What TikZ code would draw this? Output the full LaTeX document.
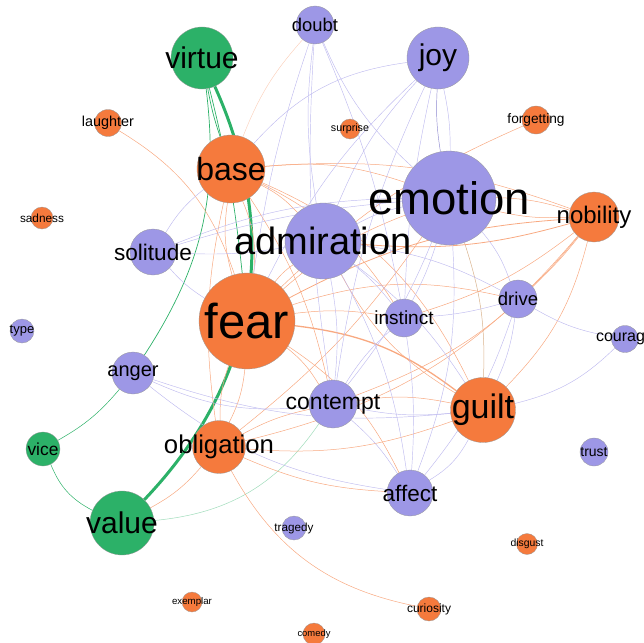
\documentclass[tikz,border=0pt]{standalone}
\usepackage{fontspec}
\setmainfont{Liberation Sans}
\usepackage{xcolor}
\definecolor{nodeorange}{RGB}{245,122,61}
\definecolor{nodepurple}{RGB}{157,151,230}
\definecolor{nodegreen}{RGB}{44,177,104}
\usetikzlibrary{positioning}
\pgfdeclarelayer{edges}
\pgfsetlayers{edges,main}

\tikzset{
  concept/.style={circle, draw=black!40, line width=0.3pt, inner sep=0pt},
  orng/.style={concept, fill=nodeorange},
  lila/.style={concept, fill=nodepurple},
  grn/.style={concept, fill=nodegreen},
  lbl/.style={inner sep=0pt, text=black},
  oedge/.style={draw=nodeorange!65, line width=0.5pt},
  pedge/.style={draw=nodepurple!65, line width=0.45pt},
  gedge/.style={draw=nodegreen, line width=0.7pt},
}

\begin{document}
\begin{tikzpicture}[x=1pt, y=-1pt]
\useasboundingbox (0,0) rectangle (644,642);

% concepts
  \node[grn, minimum size=62pt] (virtue) at (202,58) {};
  \node[lbl, font=\fontsize{30}{30}\selectfont] (virtue-t) at (virtue) {virtue};
  \node[lila, minimum size=38pt] (doubt) at (315,25) {};
  \node[lbl, font=\fontsize{18.4}{18}\selectfont] (doubt-t) at (doubt) {doubt};
  \node[lila, minimum size=62pt] (joy) at (438,58) {};
  \node[lbl, font=\fontsize{30}{30}\selectfont] (joy-t) at (joy) {joy};
  \node[orng, minimum size=27pt] (laughter) at (108,123) {};
  \node[lbl, font=\fontsize{14.4}{14}\selectfont] (laughter-t) at (laughter) {laughter};
  \node[orng, minimum size=20pt] (surprise) at (350,129) {};
  \node[lbl, font=\fontsize{10.7}{11}\selectfont] (surprise-t) at (surprise) {surprise};
  \node[orng, minimum size=28pt] (forgetting) at (536,120) {};
  \node[lbl, font=\fontsize{13.7}{14}\selectfont] (forgetting-t) at (forgetting) {forgetting};
  \node[orng, minimum size=68pt] (base) at (231,169) {};
  \node[lbl, font=\fontsize{32}{32}\selectfont] (base-t) at (base) {base};
  \node[lila, minimum size=94pt] (emotion) at (449,198) {};
  \node[lbl, font=\fontsize{45.5}{46}\selectfont] (emotion-t) at (emotion) {emotion};
  \node[orng, minimum size=50pt] (nobility) at (594,217) {};
  \node[lbl, font=\fontsize{24}{24}\selectfont] (nobility-t) at (nobility) {nobility};
  \node[lila, minimum size=76pt] (admiration) at (323,241) {};
  \node[lbl, font=\fontsize{38}{38}\selectfont] (admiration-t) at (admiration) {admiration};
  \node[orng, minimum size=22pt] (sadness) at (42,218) {};
  \node[lbl, font=\fontsize{11.8}{12}\selectfont] (sadness-t) at (sadness) {sadness};
  \node[lila, minimum size=46pt] (solitude) at (153,252) {};
  \node[lbl, font=\fontsize{22.6}{23}\selectfont] (solitude-t) at (solitude) {solitude};
  \node[orng, minimum size=96pt] (fear) at (247,321) {};
  \node[lbl, font=\fontsize{49}{49}\selectfont] (fear-t) at (fear) {fear};
  \node[lila, minimum size=38pt] (instinct) at (404,318) {};
  \node[lbl, font=\fontsize{19}{19}\selectfont] (instinct-t) at (instinct) {instinct};
  \node[lila, minimum size=38pt] (drive) at (518,299) {};
  \node[lbl, font=\fontsize{18.5}{19}\selectfont] (drive-t) at (drive) {drive};
  \node[lila, minimum size=24pt] (type) at (22,331) {};
  \node[lbl, font=\fontsize{13}{13}\selectfont] (type-t) at (type) {type};
  \node[lila, minimum size=27pt] (courage) at (625,339) {};
  \node[lbl, font=\fontsize{16}{16}\selectfont] (courage-t) at (courage) {courage};
  \node[lila, minimum size=42pt] (anger) at (133,373) {};
  \node[lbl, font=\fontsize{20}{20}\selectfont] (anger-t) at (anger) {anger};
  \node[lila, minimum size=48pt] (contempt) at (333,404) {};
  \node[lbl, font=\fontsize{23}{23}\selectfont] (contempt-t) at (contempt) {contempt};
  \node[orng, minimum size=65pt] (guilt) at (483,410) {};
  \node[lbl, font=\fontsize{34}{34}\selectfont] (guilt-t) at (guilt) {guilt};
  \node[grn, minimum size=34pt] (vice) at (43,449) {};
  \node[lbl, font=\fontsize{17.4}{17}\selectfont] (vice-t) at (vice) {vice};
  \node[orng, minimum size=53pt] (obligation) at (219,447) {};
  \node[lbl, font=\fontsize{25.7}{26}\selectfont] (obligation-t) at (obligation) {obligation};
  \node[lila, minimum size=28pt] (trust) at (594,452) {};
  \node[lbl, font=\fontsize{14}{14}\selectfont] (trust-t) at (trust) {trust};
  \node[lila, minimum size=46pt] (affect) at (410,493) {};
  \node[lbl, font=\fontsize{22.5}{23}\selectfont] (affect-t) at (affect) {affect};
  \node[grn, minimum size=64pt] (value) at (122,523) {};
  \node[lbl, font=\fontsize{30}{30}\selectfont] (value-t) at (value) {value};
  \node[lila, minimum size=24pt] (tragedy) at (294,528) {};
  \node[lbl, font=\fontsize{11.7}{12}\selectfont] (tragedy-t) at (tragedy) {tragedy};
  \node[orng, minimum size=21pt] (disgust) at (527,544) {};
  \node[lbl, font=\fontsize{10.4}{10}\selectfont] (disgust-t) at (disgust) {disgust};
  \node[orng, minimum size=24pt] (curiosity) at (429,609) {};
  \node[lbl, font=\fontsize{12}{12}\selectfont] (curiosity-t) at (curiosity) {curiosity};
  \node[orng, minimum size=20pt] (exemplar) at (192,602) {};
  \node[lbl, font=\fontsize{9.7}{10}\selectfont] (exemplar-t) at (exemplar) {exemplar};
  \node[orng, minimum size=22pt] (comedy) at (314,634) {};
  \node[lbl, font=\fontsize{9.4}{9}\selectfont] (comedy-t) at (comedy) {comedy};

\begin{pgfonlayer}{edges}
% green links
  \draw[gedge, line width=3pt] (virtue) to[bend left=34] (value);
  \draw[gedge] (virtue) to[bend right=4] (base);
  \draw[gedge] (virtue) to[bend left=4] (fear);
  \draw[gedge] (virtue) to[bend left=20] (anger);
  \draw[gedge, line width=0.5pt] (vice) to[bend right=10] (anger);
  \draw[gedge, line width=0.5pt] (vice) to[bend right=20] (value);
  \draw[draw=nodegreen!45, line width=0.5pt] (value) to[bend right=25] (contempt);

% orange links
  \draw[oedge] (laughter) to[bend left=20] (fear);
  \draw[oedge] (forgetting) to[bend right=10] (fear);
  \draw[oedge] (base) to[bend left=10] (admiration);
  \draw[oedge] (base) to[bend left=12] (emotion);
  \draw[oedge] (base) to[bend left=12] (nobility);
  \draw[oedge] (base) to[bend left=20] (guilt);
  \draw[oedge] (base) to[bend right=12] (fear);
  \draw[oedge] (base) to[bend left=14] (fear);
  \draw[oedge] (base) to[bend left=15] (instinct);
  \draw[oedge] (base) to[bend left=10] (contempt);
  \draw[oedge] (base) to[bend right=10] (obligation);
  \draw[oedge, line width=1.3pt] (fear) to[bend left=15] (guilt);
  \draw[oedge, line width=0.8pt] (fear) to[bend left=12] (nobility);
  \draw[oedge] (fear) to[bend left=8] (instinct);
  \draw[oedge] (fear) to[bend left=15] (drive);
  \draw[oedge] (fear) to[bend left=10] (emotion);
  \draw[oedge] (fear) to[bend left=8] (admiration);
  \draw[oedge] (fear) to[bend left=10] (contempt);
  \draw[oedge] (fear) to[bend left=15] (affect);
  \draw[oedge] (fear) to[bend right=10] (obligation);
  \draw[oedge] (fear) to[bend left=10] (obligation);
  \draw[oedge] (obligation) to[bend right=12] (guilt);
  \draw[oedge] (obligation) to[bend right=18] (nobility);
  \draw[oedge] (obligation) to[bend right=8] (emotion);
  \draw[oedge] (obligation) to[bend right=25] (curiosity);
  \draw[oedge] (obligation) to[bend right=10] (affect);
  \draw[oedge] (obligation) to[bend left=8] (contempt);
  \draw[oedge] (obligation) to[bend left=10] (value);
  \draw[oedge] (guilt) to[bend left=15] (admiration);
  \draw[oedge] (guilt) to[bend right=10] (contempt);
  \draw[oedge] (guilt) to[bend right=15] (nobility);
  \draw[oedge, draw=brown!60] (guilt) to[bend right=10] (emotion);
  \draw[oedge, line width=0.8pt] (nobility) to[bend left=10] (admiration);
  \draw[oedge] (nobility) to[bend left=10] (instinct);
  \draw[oedge] (nobility) to[bend left=5] (drive);
  \draw[oedge] (nobility) to[bend left=15] (contempt);
  \draw[oedge] (nobility) to[bend left=8] (emotion);
  \draw[oedge] (nobility) to[bend right=8] (emotion);

% purple links
  \draw[pedge, draw=nodeorange!35] (doubt) to[bend right=10] (base);
  \draw[pedge] (doubt) to[bend right=5] (fear);
  \draw[pedge] (doubt) to[bend right=8] (admiration);
  \draw[pedge] (doubt) to[bend right=6] (contempt);
  \draw[pedge] (doubt) to[bend right=12] (emotion);
  \draw[pedge] (doubt) to[bend left=6] (instinct);
  \draw[pedge] (joy) to[bend right=20] (base);
  \draw[pedge] (joy) to[bend left=6] (emotion);
  \draw[pedge, draw=nodepurple!90!black] (joy) to[bend right=6] (emotion);
  \draw[pedge] (joy) to[bend right=10] (admiration);
  \draw[pedge] (joy) to[bend right=5] (instinct);
  \draw[pedge] (joy) to[bend right=8] (contempt);
  \draw[pedge] (joy) to[bend right=10] (fear);
  \draw[pedge] (emotion) to[bend right=8] (admiration);
  \draw[pedge] (emotion) to[bend left=10] (drive);
  \draw[pedge] (emotion) to[bend left=5] (instinct);
  \draw[pedge] (emotion) to[bend left=8] (contempt);
  \draw[pedge] (emotion) to[bend left=12] (affect);
  \draw[pedge] (emotion) to[bend right=10] (solitude);
  \draw[pedge] (admiration) to[bend left=6] (solitude);
  \draw[pedge] (admiration) to[bend left=10] (affect);
  \draw[pedge] (admiration) to[bend left=8] (contempt);
  \draw[pedge] (admiration) to[bend left=6] (instinct);
  \draw[pedge] (admiration) to[bend left=10] (drive);
  \draw[pedge] (admiration) to[bend left=10] (guilt);
  \draw[pedge] (solitude) to[bend left=10] (base);
  \draw[pedge] (solitude) to[bend right=8] (fear);
  \draw[pedge] (solitude) to[bend left=6] (emotion);
  \draw[pedge] (drive) to[bend right=10] (courage);
  \draw[pedge] (courage) to[bend left=15] (guilt);
  \draw[pedge] (drive) to[bend left=6] (instinct);
  \draw[pedge] (drive) to[bend left=8] (guilt);
  \draw[pedge] (drive) to[bend left=10] (affect);
  \draw[pedge] (anger) to[bend right=15] (contempt);
  \draw[pedge] (anger) to[bend right=15] (affect);
  \draw[pedge] (anger) to[bend right=12] (guilt);
  \draw[pedge] (contempt) to[bend left=8] (affect);
  \draw[pedge] (contempt) to[bend right=8] (guilt);
  \draw[pedge] (affect) to[bend right=15] (guilt);
  \draw[pedge] (instinct) to[bend right=8] (contempt);
  \draw[pedge] (instinct) to[bend left=6] (affect);
\end{pgfonlayer}

\end{tikzpicture}
\end{document}
